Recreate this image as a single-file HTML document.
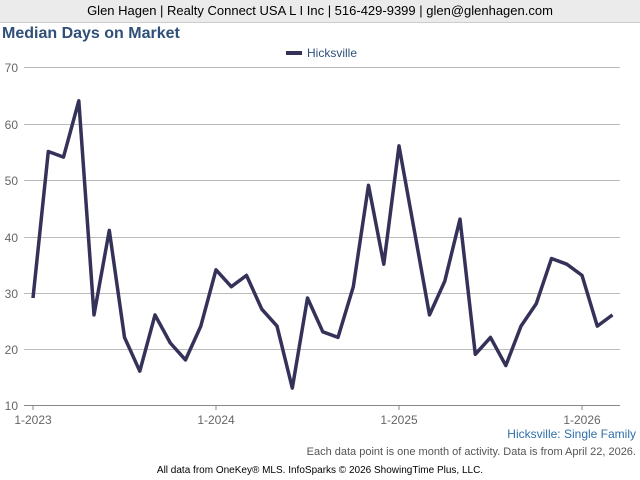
<!DOCTYPE html>
<html><head><meta charset="utf-8"><style>
body{margin:0;width:640px;height:480px;background:#fff;font-family:"Liberation Sans",sans-serif;overflow:hidden;position:relative}
.hdr{position:absolute;left:0;top:0;width:640px;height:22px;background:#ebebeb;border-bottom:1px solid #ccc;text-align:center;font-size:13px;line-height:22px;color:#000}
.title{position:absolute;left:2px;top:25px;font-size:16px;font-weight:bold;color:#2f4f79}
</style></head><body>
<div class="hdr">Glen Hagen | Realty Connect USA L I Inc | 516-429-9399 | glen@glenhagen.com</div>
<div class="title">Median Days on Market</div>
<svg width="640" height="480" style="position:absolute;left:0;top:0" font-family="Liberation Sans, sans-serif">
<g stroke="#bbb" stroke-width="1">
<line x1="24" y1="67.5" x2="620" y2="67.5"/>
<line x1="24" y1="124.5" x2="620" y2="124.5"/>
<line x1="24" y1="180.5" x2="620" y2="180.5"/>
<line x1="24" y1="237.5" x2="620" y2="237.5"/>
<line x1="24" y1="293.5" x2="620" y2="293.5"/>
<line x1="24" y1="349.5" x2="620" y2="349.5"/>
</g>
<line x1="24" y1="405.5" x2="620" y2="405.5" stroke="#888"/>
<g stroke="#888"><line x1="33" y1="405" x2="33" y2="410"/><line x1="216" y1="405" x2="216" y2="410"/><line x1="399" y1="405" x2="399" y2="410"/><line x1="582" y1="405" x2="582" y2="410"/></g>
<g font-size="12" fill="#666" text-anchor="end">
<text x="18" y="72">70</text><text x="18" y="129">60</text><text x="18" y="185">50</text><text x="18" y="242">40</text><text x="18" y="298">30</text><text x="18" y="354">20</text><text x="18" y="410">10</text>
</g>
<g font-size="12" fill="#666" text-anchor="middle">
<text x="33" y="424">1-2023</text><text x="216" y="424">1-2024</text><text x="399" y="424">1-2025</text><text x="582" y="424">1-2026</text>
</g>
<line x1="286" y1="53" x2="302" y2="53" stroke="#35325a" stroke-width="4"/>
<text x="307" y="57" font-size="12" fill="#2f4f79">Hicksville</text>
<polyline fill="none" stroke="#35325a" stroke-width="3.5" stroke-linejoin="round" id="p" points=""/>
<text x="636" y="438" font-size="12" fill="#2f6fa8" text-anchor="end">Hicksville: Single Family</text>
<text x="636" y="455" font-size="11" fill="#555" text-anchor="end">Each data point is one month of activity. Data is from April 22, 2026.</text>
<text x="320" y="473" font-size="10" fill="#000" text-anchor="middle">All data from OneKey® MLS. InfoSparks © 2026 ShowingTime Plus, LLC.</text>
</svg>
<script>
var d=[29,55,54,64,26,41,22,16,26,21,18,24,34,31,33,27,24,13,29,23,22,31,49,35,56,41,26,32,43,19,22,17,24,28,36,35,33,24,26];
var pts=d.map(function(v,i){return (33+i*15.25).toFixed(1)+","+(405-(v-10)*5.633).toFixed(1)}).join(" ");
document.getElementById("p").setAttribute("points",pts);
</script>
</body></html>
